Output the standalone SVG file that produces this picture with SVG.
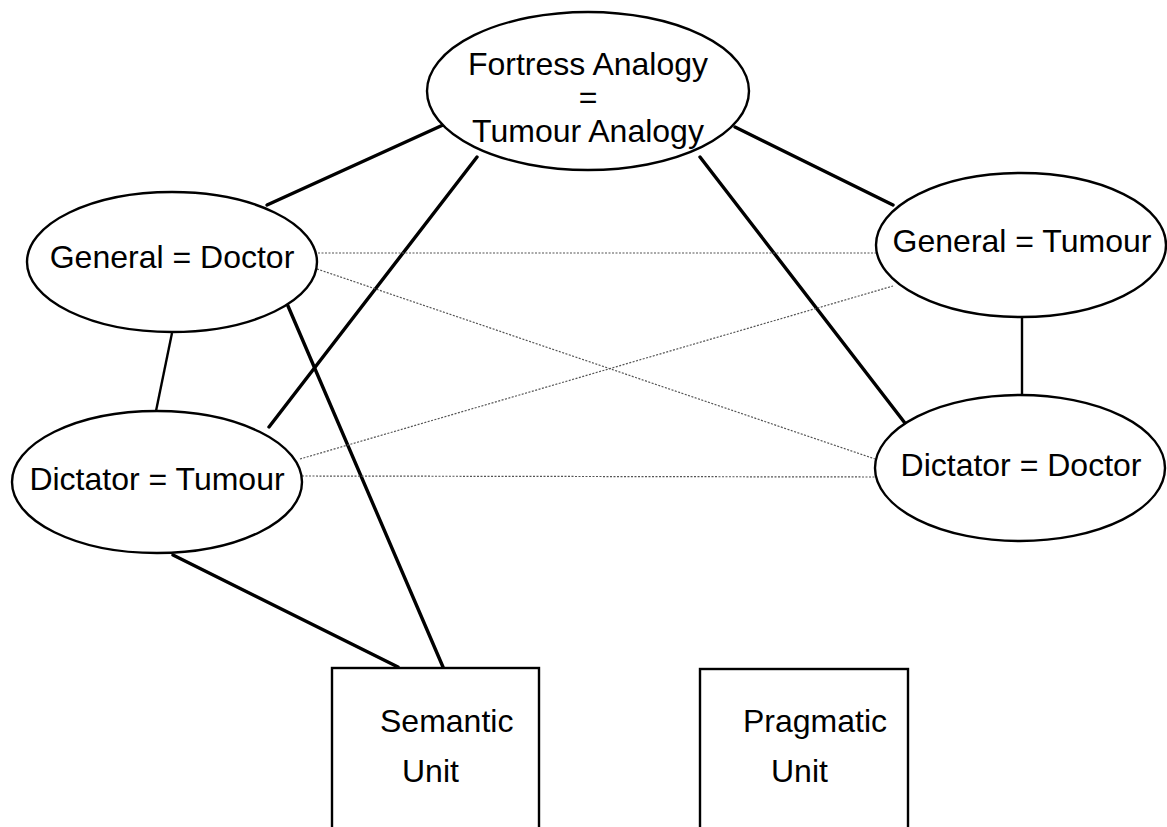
<svg xmlns="http://www.w3.org/2000/svg" width="1167" height="827" viewBox="0 0 1167 827">
<style>
.node ellipse{fill:#fff;stroke:#000;stroke-width:2.4}
.node rect{fill:none;stroke:#000;stroke-width:2.4}
.node text{font-family:"Liberation Sans",Arial,sans-serif;font-size:32px;fill:#000}
.c{text-anchor:middle}
.solid{stroke:#000;stroke-width:3.4;fill:none;stroke-linecap:round}
.thin{stroke:#000;stroke-width:2.4;fill:none}
.dot{stroke:#555;stroke-width:1.2;stroke-dasharray:2 1.5;fill:none}
</style>
<rect width="1167" height="827" fill="#fff"/>
<g id="connectors">
<line class="solid" x1="267" y1="205" x2="443" y2="125"/>
<line class="solid" x1="477" y1="157" x2="269" y2="427"/>
<line class="solid" x1="735" y1="127" x2="893" y2="205"/>
<line class="solid" x1="700" y1="157" x2="908" y2="427"/>
<line class="thin" x1="172" y1="333" x2="156" y2="411"/>
<line class="thin" x1="1022" y1="317" x2="1022" y2="395"/>
<line class="solid" x1="285" y1="299" x2="443" y2="667"/>
<line class="solid" x1="173" y1="555" x2="398" y2="667"/>
<line class="dot" x1="318" y1="253" x2="877" y2="253"/>
<line class="dot" x1="317" y1="269" x2="875" y2="459"/>
<line class="dot" x1="300" y1="459" x2="893" y2="286"/>
<line class="dot" x1="302" y1="476" x2="875" y2="477"/>
</g>
<g id="fortress" class="node">
<ellipse cx="588" cy="91" rx="161" ry="79"/>
<text class="c" x="588" y="75">Fortress Analogy</text>
<text class="c" x="588" y="108">=</text>
<text class="c" x="588" y="142">Tumour Analogy</text>
</g>
<g id="general-doctor" class="node">
<ellipse cx="172" cy="262" rx="145" ry="70"/>
<text class="c" x="172" y="268">General = Doctor</text>
</g>
<g id="dictator-tumour" class="node">
<ellipse cx="157" cy="482" rx="145" ry="71"/>
<text class="c" x="157" y="490">Dictator = Tumour</text>
</g>
<g id="general-tumour" class="node">
<ellipse cx="1021" cy="245" rx="145" ry="72"/>
<text class="c" x="1022" y="252">General = Tumour</text>
</g>
<g id="dictator-doctor" class="node">
<ellipse cx="1020" cy="468" rx="145" ry="73"/>
<text class="c" x="1021" y="476">Dictator = Doctor</text>
</g>
<g id="semantic" class="node">
<rect x="332" y="668" width="207" height="180"/>
<text x="380" y="732">Semantic</text>
<text x="402" y="782">Unit</text>
</g>
<g id="pragmatic" class="node">
<rect x="700" y="669" width="208" height="180"/>
<text x="743" y="732">Pragmatic</text>
<text x="771" y="782">Unit</text>
</g>
</svg>
